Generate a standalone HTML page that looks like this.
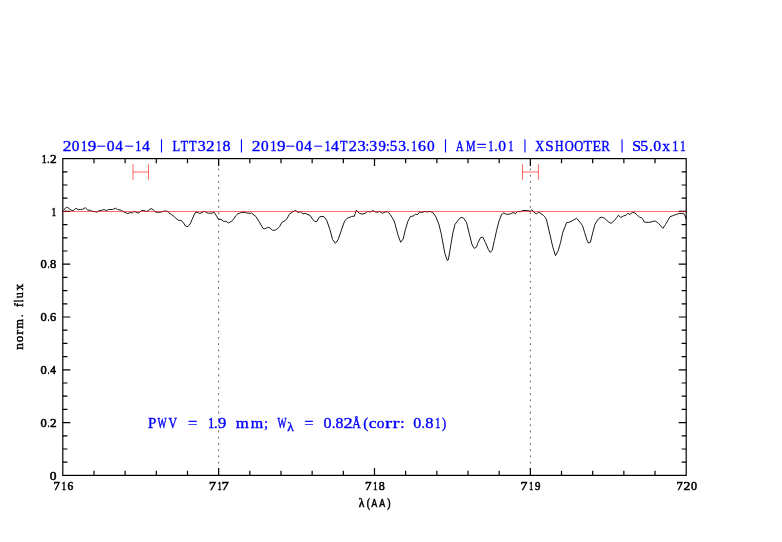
<!DOCTYPE html>
<html><head><meta charset="utf-8"><style>
html,body{margin:0;padding:0;background:#fff;}
body{width:782px;height:542px;overflow:hidden;}
svg{display:block;will-change:transform;}
</style></head><body>
<svg width="782" height="542" viewBox="0 0 782 542"><rect width="782" height="542" fill="#fff"/><line x1="218.65" y1="475.40" x2="218.65" y2="158.60" stroke="#000" stroke-width="1" stroke-opacity="0.62" stroke-dasharray="1.8 4.438" stroke-dashoffset="0.6" /><line x1="530.35" y1="475.40" x2="530.35" y2="158.60" stroke="#000" stroke-width="1" stroke-opacity="0.62" stroke-dasharray="1.8 4.438" stroke-dashoffset="0.6" /><path d="M93.97 475.40V470.80M93.97 158.60V163.20M125.14 475.40V470.80M125.14 158.60V163.20M156.31 475.40V470.80M156.31 158.60V163.20M187.48 475.40V470.80M187.48 158.60V163.20M218.65 475.40V467.90M218.65 158.60V166.10M249.82 475.40V470.80M249.82 158.60V163.20M280.99 475.40V470.80M280.99 158.60V163.20M312.16 475.40V470.80M312.16 158.60V163.20M343.33 475.40V470.80M343.33 158.60V163.20M374.50 475.40V467.90M374.50 158.60V166.10M405.67 475.40V470.80M405.67 158.60V163.20M436.84 475.40V470.80M436.84 158.60V163.20M468.01 475.40V470.80M468.01 158.60V163.20M499.18 475.40V470.80M499.18 158.60V163.20M530.35 475.40V467.90M530.35 158.60V166.10M561.52 475.40V470.80M561.52 158.60V163.20M592.69 475.40V470.80M592.69 158.60V163.20M623.86 475.40V470.80M623.86 158.60V163.20M655.03 475.40V470.80M655.03 158.60V163.20M62.80 462.20H67.40M686.20 462.20H681.60M62.80 449.00H67.40M686.20 449.00H681.60M62.80 435.80H67.40M686.20 435.80H681.60M62.80 422.60H70.30M686.20 422.60H678.70M62.80 409.40H67.40M686.20 409.40H681.60M62.80 396.20H67.40M686.20 396.20H681.60M62.80 383.00H67.40M686.20 383.00H681.60M62.80 369.80H70.30M686.20 369.80H678.70M62.80 356.60H67.40M686.20 356.60H681.60M62.80 343.40H67.40M686.20 343.40H681.60M62.80 330.20H67.40M686.20 330.20H681.60M62.80 317.00H70.30M686.20 317.00H678.70M62.80 303.80H67.40M686.20 303.80H681.60M62.80 290.60H67.40M686.20 290.60H681.60M62.80 277.40H67.40M686.20 277.40H681.60M62.80 264.20H70.30M686.20 264.20H678.70M62.80 251.00H67.40M686.20 251.00H681.60M62.80 237.80H67.40M686.20 237.80H681.60M62.80 224.60H67.40M686.20 224.60H681.60M62.80 211.40H70.30M686.20 211.40H678.70M62.80 198.20H67.40M686.20 198.20H681.60M62.80 185.00H67.40M686.20 185.00H681.60M62.80 171.80H67.40M686.20 171.80H681.60" stroke="#000" stroke-width="1.2" fill="none"/><rect x="62.8" y="158.6" width="623.40" height="316.80" fill="none" stroke="#000" stroke-width="1.2"/><polyline points="63.5,210.2 64.1,209.5 66.6,207.2 68.2,207.9 70.2,209.5 72.0,210.5 73.3,210.5 75.9,208.3 78.2,209.6 80.5,209.5 82.5,209.3 85.3,207.7 87.9,210.2 90.2,210.2 92.2,211.3 94.8,211.5 96.8,212.3 98.8,210.7 101.1,210.5 104.0,209.5 106.3,210.7 108.6,209.5 112.4,209.5 115.7,208.2 117.5,209.5 120.6,210.0 122.6,211.3 125.2,212.5 127.7,213.6 130.3,212.5 132.3,213.0 134.3,211.3 137.7,213.0 139.5,212.5 141.5,210.5 143.8,210.5 146.4,211.5 148.4,210.5 151.0,208.6 153.3,209.7 155.6,212.2 158.6,212.3 160.7,212.2 163.2,211.3 166.8,211.0 168.6,212.6 171.5,214.5 174.7,217.1 178.2,220.3 180.8,220.5 183.1,222.3 185.7,226.2 187.9,226.6 190.2,223.9 192.1,219.4 195.0,212.9 197.0,212.1 199.9,213.6 204.2,211.3 206.5,212.6 208.4,213.2 212.0,213.2 213.9,212.1 215.8,214.9 218.4,219.1 221.0,219.4 223.6,221.3 225.8,221.3 228.4,222.9 231.0,221.6 233.3,219.7 235.5,216.1 238.0,213.7 241.6,212.4 245.3,212.4 247.9,213.3 251.6,213.1 256.0,216.6 259.4,222.1 263.0,228.4 264.9,228.9 267.8,227.2 269.7,227.9 272.3,230.1 274.8,230.4 277.4,228.8 279.6,226.6 281.8,222.5 285.5,220.3 287.3,218.1 289.2,214.4 292.1,212.2 295.5,210.3 298.0,212.4 300.6,211.8 302.8,213.9 305.1,213.3 310.1,215.5 312.4,218.9 314.7,221.4 317.0,221.4 319.3,217.1 321.1,216.4 323.9,216.6 326.7,220.3 329.9,229.5 332.6,239.6 335.4,243.3 338.2,239.6 341.4,230.0 344.6,221.2 345.9,219.7 347.2,218.2 350.2,217.1 351.8,216.3 354.3,216.3 355.3,213.3 356.4,210.2 357.9,211.8 359.4,213.4 362.0,214.1 365.1,213.4 367.6,211.4 370.7,212.0 372.7,210.5 375.3,211.9 377.3,212.3 377.5,212.3 379.6,211.5 382.5,213.3 385.0,212.0 387.4,211.6 389.9,214.1 392.4,217.8 394.5,222.0 396.2,228.2 398.2,235.7 400.7,242.3 403.2,239.0 405.3,229.9 407.8,221.6 410.3,216.6 411.9,216.2 413.0,216.2 415.4,214.4 417.8,214.4 419.6,212.0 422.0,212.4 425.0,211.4 427.4,212.0 429.8,211.4 432.8,212.4 435.8,216.8 438.8,224.0 441.2,233.6 443.6,246.8 445.0,253.7 447.2,260.4 448.3,259.8 450.5,247.1 452.7,233.8 455.0,224.4 458.3,220.0 461.0,217.2 463.8,218.3 466.6,222.7 469.3,233.8 472.1,244.9 474.3,248.4 476.5,247.1 477.8,243.2 480.5,237.7 482.8,237.1 485.5,242.7 488.3,249.3 490.0,252.4 492.2,250.4 494.4,240.4 496.6,230.5 498.8,221.6 501.6,214.4 503.8,213.0 506.6,214.4 510.4,213.9 513.1,212.5 515.4,213.7 517.7,211.4 520.2,211.8 522.5,210.5 527.4,210.5 530.2,211.3 531.7,209.7 533.3,211.3 535.1,213.3 536.6,213.7 538.6,212.3 540.7,213.3 543.2,215.3 545.3,217.4 546.6,219.9 547.2,222.7 550.0,234.9 552.8,247.1 555.5,255.7 558.3,250.4 560.5,242.7 562.7,232.7 566.6,222.7 569.4,222.2 572.7,220.5 576.6,218.3 580.4,222.7 582.5,225.7 584.6,232.4 586.6,239.0 588.3,243.0 590.4,242.3 592.4,234.0 594.9,224.5 597.8,219.5 601.2,217.0 604.5,218.3 608.2,221.6 611.1,223.4 614.0,220.8 616.9,217.4 618.3,215.2 620.8,217.6 623.3,216.0 626.1,215.2 627.7,213.4 629.9,214.3 632.7,212.3 634.9,213.0 637.1,214.9 639.6,217.4 641.5,217.6 642.9,219.4 644.3,222.1 648.2,222.4 651.0,222.1 653.9,221.0 655.8,221.3 658.4,223.3 661.0,226.2 662.9,228.4 665.5,224.5 667.8,220.7 670.0,216.7 673.3,215.5 677.1,214.2 679.1,213.4 683.6,213.4 684.9,215.5 686.2,219.0" fill="none" stroke="#000" stroke-width="0.9" stroke-linejoin="round"/><line x1="62.8" y1="211.5" x2="686.2" y2="211.5" stroke="#f00" stroke-width="1" stroke-opacity="0.6"/><path d="M133.0 164.0V180.0M148.5 164.0V180.0M133.0 172.0H148.5" stroke="#f00" stroke-width="1" stroke-opacity="0.6" fill="none"/><path d="M522.5 164.0V180.0M538.4 164.0V180.0M522.5 172.0H538.4" stroke="#f00" stroke-width="1" stroke-opacity="0.6" fill="none"/><g><text transform="translate(62.63 150.60) scale(1.1641 1.0000)" font-family='"Liberation Serif", serif' font-size="15.0" fill="#00f" stroke="#00f" stroke-width="0.352">2</text><text transform="translate(71.82 150.60) scale(1.0224 1.0000)" font-family='"Liberation Serif", serif' font-size="15.0" fill="#00f" stroke="#00f" stroke-width="0.376">0</text><text transform="translate(81.10 150.60) scale(0.8332 1.0000)" font-family='"Liberation Serif", serif' font-size="15.0" fill="#00f" stroke="#00f" stroke-width="0.416">1</text><text transform="translate(87.85 150.60) scale(1.1404 1.0000)" font-family='"Liberation Serif", serif' font-size="15.0" fill="#00f" stroke="#00f" stroke-width="0.356">9</text><text transform="translate(96.49 150.60) scale(1.0888 1.0000)" font-family='"Liberation Serif", serif' font-size="15.0" fill="#00f" stroke="#00f" stroke-width="0.364">−</text><text transform="translate(106.71 150.60) scale(1.0382 1.0000)" font-family='"Liberation Serif", serif' font-size="15.0" fill="#00f" stroke="#00f" stroke-width="0.373">0</text><text transform="translate(115.20 150.60) scale(1.0183 1.0000)" font-family='"Liberation Serif", serif' font-size="15.0" fill="#00f" stroke="#00f" stroke-width="0.377">4</text><text transform="translate(124.40 150.60) scale(1.0745 1.0000)" font-family='"Liberation Serif", serif' font-size="15.0" fill="#00f" stroke="#00f" stroke-width="0.367">−</text><text transform="translate(135.33 150.60) scale(0.8143 1.0000)" font-family='"Liberation Serif", serif' font-size="15.0" fill="#00f" stroke="#00f" stroke-width="0.421">1</text><text transform="translate(141.99 150.60) scale(1.0469 1.0000)" font-family='"Liberation Serif", serif' font-size="15.0" fill="#00f" stroke="#00f" stroke-width="0.371">4</text><text transform="translate(172.54 150.60) scale(0.8302 1.0000)" font-family='"Liberation Serif", serif' font-size="15.0" fill="#00f" stroke="#00f" stroke-width="0.417">L</text><text transform="translate(180.78 150.60) scale(0.7984 1.0000)" font-family='"Liberation Serif", serif' font-size="15.0" fill="#00f" stroke="#00f" stroke-width="0.425">T</text><text transform="translate(188.98 150.60) scale(0.8215 1.0000)" font-family='"Liberation Serif", serif' font-size="15.0" fill="#00f" stroke="#00f" stroke-width="0.419">T</text><text transform="translate(197.64 150.60) scale(1.0652 1.0000)" font-family='"Liberation Serif", serif' font-size="15.0" fill="#00f" stroke="#00f" stroke-width="0.368">3</text><text transform="translate(206.04 150.60) scale(1.1475 1.0000)" font-family='"Liberation Serif", serif' font-size="15.0" fill="#00f" stroke="#00f" stroke-width="0.355">2</text><text transform="translate(216.23 150.60) scale(0.6628 1.0000)" font-family='"Liberation Serif", serif' font-size="15.0" fill="#00f" stroke="#00f" stroke-width="0.467">1</text><text transform="translate(222.59 150.60) scale(1.0696 1.0000)" font-family='"Liberation Serif", serif' font-size="15.0" fill="#00f" stroke="#00f" stroke-width="0.367">8</text><text transform="translate(251.73 150.60) scale(1.1641 1.0000)" font-family='"Liberation Serif", serif' font-size="15.0" fill="#00f" stroke="#00f" stroke-width="0.352">2</text><text transform="translate(260.92 150.60) scale(1.0224 1.0000)" font-family='"Liberation Serif", serif' font-size="15.0" fill="#00f" stroke="#00f" stroke-width="0.376">0</text><text transform="translate(270.20 150.60) scale(0.8332 1.0000)" font-family='"Liberation Serif", serif' font-size="15.0" fill="#00f" stroke="#00f" stroke-width="0.416">1</text><text transform="translate(276.95 150.60) scale(1.1404 1.0000)" font-family='"Liberation Serif", serif' font-size="15.0" fill="#00f" stroke="#00f" stroke-width="0.356">9</text><text transform="translate(285.59 150.60) scale(1.0888 1.0000)" font-family='"Liberation Serif", serif' font-size="15.0" fill="#00f" stroke="#00f" stroke-width="0.364">−</text><text transform="translate(295.81 150.60) scale(1.0382 1.0000)" font-family='"Liberation Serif", serif' font-size="15.0" fill="#00f" stroke="#00f" stroke-width="0.373">0</text><text transform="translate(304.30 150.60) scale(1.0183 1.0000)" font-family='"Liberation Serif", serif' font-size="15.0" fill="#00f" stroke="#00f" stroke-width="0.377">4</text><text transform="translate(313.50 150.60) scale(1.0745 1.0000)" font-family='"Liberation Serif", serif' font-size="15.0" fill="#00f" stroke="#00f" stroke-width="0.367">−</text><text transform="translate(324.43 150.60) scale(0.8143 1.0000)" font-family='"Liberation Serif", serif' font-size="15.0" fill="#00f" stroke="#00f" stroke-width="0.421">1</text><text transform="translate(331.09 150.60) scale(1.0469 1.0000)" font-family='"Liberation Serif", serif' font-size="15.0" fill="#00f" stroke="#00f" stroke-width="0.371">4</text><text transform="translate(340.08 150.60) scale(0.8099 1.0000)" font-family='"Liberation Serif", serif' font-size="15.0" fill="#00f" stroke="#00f" stroke-width="0.422">T</text><text transform="translate(348.79 150.60) scale(1.0810 1.0000)" font-family='"Liberation Serif", serif' font-size="15.0" fill="#00f" stroke="#00f" stroke-width="0.365">2</text><text transform="translate(357.41 150.60) scale(1.0974 1.0000)" font-family='"Liberation Serif", serif' font-size="15.0" fill="#00f" stroke="#00f" stroke-width="0.363">3</text><text transform="translate(365.66 150.60) scale(0.7931 1.0000)" font-family='"Liberation Serif", serif' font-size="15.0" fill="#00f" stroke="#00f" stroke-width="0.427">:</text><text transform="translate(369.14 150.60) scale(1.0652 1.0000)" font-family='"Liberation Serif", serif' font-size="15.0" fill="#00f" stroke="#00f" stroke-width="0.368">3</text><text transform="translate(378.42 150.60) scale(0.9842 1.0000)" font-family='"Liberation Serif", serif' font-size="15.0" fill="#00f" stroke="#00f" stroke-width="0.383">9</text><text transform="translate(385.99 150.60) scale(0.8498 1.0000)" font-family='"Liberation Serif", serif' font-size="15.0" fill="#00f" stroke="#00f" stroke-width="0.412">:</text><text transform="translate(389.72 150.60) scale(1.0095 1.0000)" font-family='"Liberation Serif", serif' font-size="15.0" fill="#00f" stroke="#00f" stroke-width="0.378">5</text><text transform="translate(398.35 150.60) scale(1.0490 1.0000)" font-family='"Liberation Serif", serif' font-size="15.0" fill="#00f" stroke="#00f" stroke-width="0.371">3</text><text transform="translate(406.83 150.60) scale(0.6770 1.0000)" font-family='"Liberation Serif", serif' font-size="15.0" fill="#00f" stroke="#00f" stroke-width="0.462">.</text><text transform="translate(411.48 150.60) scale(0.7007 1.0000)" font-family='"Liberation Serif", serif' font-size="15.0" fill="#00f" stroke="#00f" stroke-width="0.454">1</text><text transform="translate(418.12 150.60) scale(1.0611 1.0000)" font-family='"Liberation Serif", serif' font-size="15.0" fill="#00f" stroke="#00f" stroke-width="0.369">6</text><text transform="translate(426.92 150.60) scale(1.0224 1.0000)" font-family='"Liberation Serif", serif' font-size="15.0" fill="#00f" stroke="#00f" stroke-width="0.376">0</text><text transform="translate(456.10 150.60) scale(0.7091 1.0000)" font-family='"Liberation Serif", serif' font-size="15.0" fill="#00f" stroke="#00f" stroke-width="0.451">A</text><text transform="translate(466.09 150.60) scale(0.7140 1.0000)" font-family='"Liberation Serif", serif' font-size="15.0" fill="#00f" stroke="#00f" stroke-width="0.450">M</text><text transform="translate(476.73 150.60) scale(1.1605 1.0000)" font-family='"Liberation Serif", serif' font-size="15.0" fill="#00f" stroke="#00f" stroke-width="0.353">=</text><text transform="translate(488.15 150.60) scale(0.7196 1.0000)" font-family='"Liberation Serif", serif' font-size="15.0" fill="#00f" stroke="#00f" stroke-width="0.448">1</text><text transform="translate(494.52 150.60) scale(0.7899 1.0000)" font-family='"Liberation Serif", serif' font-size="15.0" fill="#00f" stroke="#00f" stroke-width="0.428">.</text><text transform="translate(498.21 150.60) scale(1.0382 1.0000)" font-family='"Liberation Serif", serif' font-size="15.0" fill="#00f" stroke="#00f" stroke-width="0.373">0</text><text transform="translate(508.18 150.60) scale(0.7007 1.0000)" font-family='"Liberation Serif", serif' font-size="15.0" fill="#00f" stroke="#00f" stroke-width="0.454">1</text><text transform="translate(535.13 150.60) scale(0.8210 1.0000)" font-family='"Liberation Serif", serif' font-size="15.0" fill="#00f" stroke="#00f" stroke-width="0.419">X</text><text transform="translate(545.18 150.60) scale(1.0142 1.0000)" font-family='"Liberation Serif", serif' font-size="15.0" fill="#00f" stroke="#00f" stroke-width="0.377">S</text><text transform="translate(555.06 150.60) scale(0.7831 1.0000)" font-family='"Liberation Serif", serif' font-size="15.0" fill="#00f" stroke="#00f" stroke-width="0.429">H</text><text transform="translate(564.69 150.60) scale(0.8332 1.0000)" font-family='"Liberation Serif", serif' font-size="15.0" fill="#00f" stroke="#00f" stroke-width="0.416">O</text><text transform="translate(574.29 150.60) scale(0.8332 1.0000)" font-family='"Liberation Serif", serif' font-size="15.0" fill="#00f" stroke="#00f" stroke-width="0.416">O</text><text transform="translate(583.55 150.60) scale(0.9256 1.0000)" font-family='"Liberation Serif", serif' font-size="15.0" fill="#00f" stroke="#00f" stroke-width="0.395">T</text><text transform="translate(592.60 150.60) scale(0.9269 1.0000)" font-family='"Liberation Serif", serif' font-size="15.0" fill="#00f" stroke="#00f" stroke-width="0.395">E</text><text transform="translate(601.32 150.60) scale(0.8690 1.0000)" font-family='"Liberation Serif", serif' font-size="15.0" fill="#00f" stroke="#00f" stroke-width="0.408">R</text><text transform="translate(632.14 150.60) scale(1.0611 1.0000)" font-family='"Liberation Serif", serif' font-size="15.0" fill="#00f" stroke="#00f" stroke-width="0.369">S</text><text transform="translate(640.28 150.60) scale(1.0592 1.0000)" font-family='"Liberation Serif", serif' font-size="15.0" fill="#00f" stroke="#00f" stroke-width="0.369">5</text><text transform="translate(649.15 150.60) scale(0.9591 1.0000)" font-family='"Liberation Serif", serif' font-size="15.0" fill="#00f" stroke="#00f" stroke-width="0.388">.</text><text transform="translate(653.20 150.60) scale(1.0539 1.0000)" font-family='"Liberation Serif", serif' font-size="15.0" fill="#00f" stroke="#00f" stroke-width="0.370">0</text><text transform="translate(662.16 150.60) scale(1.0299 1.0000)" font-family='"Liberation Serif", serif' font-size="15.0" fill="#00f" stroke="#00f" stroke-width="0.374">x</text><text transform="translate(672.23 150.60) scale(0.8143 1.0000)" font-family='"Liberation Serif", serif' font-size="15.0" fill="#00f" stroke="#00f" stroke-width="0.421">1</text><text transform="translate(680.00 150.60) scale(0.7575 1.0000)" font-family='"Liberation Serif", serif' font-size="15.0" fill="#00f" stroke="#00f" stroke-width="0.437">1</text><rect x="160.95" y="139.3" width="1.1" height="13.2" fill="#00f"/><rect x="240.90" y="139.3" width="1.1" height="13.2" fill="#00f"/><rect x="444.95" y="139.3" width="1.1" height="13.2" fill="#00f"/><rect x="524.40" y="139.3" width="1.1" height="13.2" fill="#00f"/><rect x="621.50" y="139.3" width="1.1" height="13.2" fill="#00f"/><text transform="translate(40.42 426.80) scale(1.0085 1.0000)" font-family='"Liberation Serif", serif' font-size="12.4" fill="#000" stroke="#000" stroke-width="0.548">0</text><text transform="translate(47.81 426.80) scale(0.4777 1.0000)" font-family='"Liberation Serif", serif' font-size="12.4" fill="#000" stroke="#000" stroke-width="0.796">.</text><text transform="translate(49.92 426.80) scale(1.0662 1.0000)" font-family='"Liberation Serif", serif' font-size="12.4" fill="#000" stroke="#000" stroke-width="0.533">2</text><text transform="translate(40.42 374.00) scale(1.0085 1.0000)" font-family='"Liberation Serif", serif' font-size="12.4" fill="#000" stroke="#000" stroke-width="0.548">0</text><text transform="translate(47.81 374.00) scale(0.4777 1.0000)" font-family='"Liberation Serif", serif' font-size="12.4" fill="#000" stroke="#000" stroke-width="0.796">.</text><text transform="translate(50.28 374.00) scale(0.9195 1.0000)" font-family='"Liberation Serif", serif' font-size="12.4" fill="#000" stroke="#000" stroke-width="0.574">4</text><text transform="translate(40.42 321.20) scale(1.0085 1.0000)" font-family='"Liberation Serif", serif' font-size="12.4" fill="#000" stroke="#000" stroke-width="0.548">0</text><text transform="translate(47.81 321.20) scale(0.4777 1.0000)" font-family='"Liberation Serif", serif' font-size="12.4" fill="#000" stroke="#000" stroke-width="0.796">.</text><text transform="translate(49.97 321.20) scale(1.0004 1.0000)" font-family='"Liberation Serif", serif' font-size="12.4" fill="#000" stroke="#000" stroke-width="0.550">6</text><text transform="translate(40.42 268.40) scale(1.0085 1.0000)" font-family='"Liberation Serif", serif' font-size="12.4" fill="#000" stroke="#000" stroke-width="0.548">0</text><text transform="translate(47.81 268.40) scale(0.4777 1.0000)" font-family='"Liberation Serif", serif' font-size="12.4" fill="#000" stroke="#000" stroke-width="0.796">.</text><text transform="translate(50.02 268.40) scale(1.0085 1.0000)" font-family='"Liberation Serif", serif' font-size="12.4" fill="#000" stroke="#000" stroke-width="0.548">8</text><text transform="translate(49.79 479.60) scale(1.0846 1.0000)" font-family='"Liberation Serif", serif' font-size="12.4" fill="#000" stroke="#000" stroke-width="0.528">0</text><text transform="translate(51.75 215.60) scale(0.6872 1.0000)" font-family='"Liberation Serif", serif' font-size="12.4" fill="#000" stroke="#000" stroke-width="0.663">1</text><text transform="translate(41.73 162.80) scale(0.8018 1.0000)" font-family='"Liberation Serif", serif' font-size="12.4" fill="#000" stroke="#000" stroke-width="0.614">1</text><text transform="translate(47.34 162.80) scale(0.6825 1.0000)" font-family='"Liberation Serif", serif' font-size="12.4" fill="#000" stroke="#000" stroke-width="0.666">.</text><text transform="translate(49.92 162.80) scale(1.0662 1.0000)" font-family='"Liberation Serif", serif' font-size="12.4" fill="#000" stroke="#000" stroke-width="0.533">2</text><text transform="translate(53.55 490.30) scale(1.0347 1.0000)" font-family='"Liberation Serif", serif' font-size="12.4" fill="#000" stroke="#000" stroke-width="0.541">7</text><text transform="translate(61.65 490.30) scale(0.6872 1.0000)" font-family='"Liberation Serif", serif' font-size="12.4" fill="#000" stroke="#000" stroke-width="0.663">1</text><text transform="translate(67.51 490.30) scale(0.9249 1.0000)" font-family='"Liberation Serif", serif' font-size="12.4" fill="#000" stroke="#000" stroke-width="0.572">6</text><text transform="translate(208.92 490.30) scale(1.1342 1.0000)" font-family='"Liberation Serif", serif' font-size="12.4" fill="#000" stroke="#000" stroke-width="0.516">7</text><text transform="translate(217.68 490.30) scale(0.6185 1.0000)" font-family='"Liberation Serif", serif' font-size="12.4" fill="#000" stroke="#000" stroke-width="0.699">1</text><text transform="translate(221.82 490.30) scale(1.1342 1.0000)" font-family='"Liberation Serif", serif' font-size="12.4" fill="#000" stroke="#000" stroke-width="0.516">7</text><text transform="translate(365.04 490.30) scale(1.0546 1.0000)" font-family='"Liberation Serif", serif' font-size="12.4" fill="#000" stroke="#000" stroke-width="0.536">7</text><text transform="translate(373.18 490.30) scale(0.6643 1.0000)" font-family='"Liberation Serif", serif' font-size="12.4" fill="#000" stroke="#000" stroke-width="0.675">1</text><text transform="translate(378.84 490.30) scale(0.9704 1.0000)" font-family='"Liberation Serif", serif' font-size="12.4" fill="#000" stroke="#000" stroke-width="0.558">8</text><text transform="translate(520.44 490.30) scale(1.1143 1.0000)" font-family='"Liberation Serif", serif' font-size="12.4" fill="#000" stroke="#000" stroke-width="0.521">7</text><text transform="translate(529.18 490.30) scale(0.6185 1.0000)" font-family='"Liberation Serif", serif' font-size="12.4" fill="#000" stroke="#000" stroke-width="0.699">1</text><text transform="translate(535.00 490.30) scale(0.8693 1.0000)" font-family='"Liberation Serif", serif' font-size="12.4" fill="#000" stroke="#000" stroke-width="0.590">9</text><text transform="translate(676.47 490.30) scale(1.0148 1.0000)" font-family='"Liberation Serif", serif' font-size="12.4" fill="#000" stroke="#000" stroke-width="0.546">7</text><text transform="translate(683.60 490.30) scale(1.1064 1.0000)" font-family='"Liberation Serif", serif' font-size="12.4" fill="#000" stroke="#000" stroke-width="0.523">2</text><text transform="translate(691.04 490.30) scale(0.9704 1.0000)" font-family='"Liberation Serif", serif' font-size="12.4" fill="#000" stroke="#000" stroke-width="0.558">0</text><g transform="rotate(-90)"><text transform="translate(-349.81 23.10) scale(1.1002 1.0000)" font-family='"Liberation Serif", serif' font-size="12.2" fill="#000" stroke="#000" stroke-width="0.429">n</text><text transform="translate(-342.20 23.10) scale(1.0830 1.0000)" font-family='"Liberation Serif", serif' font-size="12.2" fill="#000" stroke="#000" stroke-width="0.432">o</text><text transform="translate(-334.80 23.10) scale(1.2125 1.0000)" font-family='"Liberation Serif", serif' font-size="12.2" fill="#000" stroke="#000" stroke-width="0.409">r</text><text transform="translate(-328.66 23.10) scale(1.0284 1.0000)" font-family='"Liberation Serif", serif' font-size="12.2" fill="#000" stroke="#000" stroke-width="0.444">m</text><text transform="translate(-317.01 23.10) scale(0.7630 1.0000)" font-family='"Liberation Serif", serif' font-size="12.2" fill="#000" stroke="#000" stroke-width="0.515">.</text><text transform="translate(-306.95 23.10) scale(0.9221 1.0000)" font-family='"Liberation Serif", serif' font-size="12.2" fill="#000" stroke="#000" stroke-width="0.469">f</text><text transform="translate(-301.96 23.10) scale(0.6549 1.0000)" font-family='"Liberation Serif", serif' font-size="12.2" fill="#000" stroke="#000" stroke-width="0.556">l</text><text transform="translate(-298.36 23.10) scale(0.9946 1.0000)" font-family='"Liberation Serif", serif' font-size="12.2" fill="#000" stroke="#000" stroke-width="0.451">u</text><text transform="translate(-290.52 23.10) scale(1.0952 1.0000)" font-family='"Liberation Serif", serif' font-size="12.2" fill="#000" stroke="#000" stroke-width="0.430">x</text></g><text transform="translate(358.79 506.80) scale(1.0171 1.0000)" font-family='"Liberation Serif", serif' font-size="11.5" fill="#000" stroke="#000" stroke-width="0.545">λ</text><text transform="translate(366.87 506.80) scale(0.8464 1.0000)" font-family='"Liberation Serif", serif' font-size="11.5" fill="#000" stroke="#000" stroke-width="0.598">(</text><text transform="translate(387.19 506.80) scale(0.8464 1.0000)" font-family='"Liberation Serif", serif' font-size="11.5" fill="#000" stroke="#000" stroke-width="0.598">)</text><text transform="translate(371.38 506.80) scale(0.7344 1.0000)" font-family='"Liberation Sans", sans-serif' font-size="11.5" fill="#000" stroke="#000" stroke-width="0.583">A</text><text transform="translate(379.28 506.80) scale(0.7606 1.0000)" font-family='"Liberation Sans", sans-serif' font-size="11.5" fill="#000" stroke="#000" stroke-width="0.573">A</text><text transform="translate(147.97 427.50) scale(1.0261 1.0000)" font-family='"Liberation Serif", serif' font-size="14.6" fill="#00f" stroke="#00f" stroke-width="0.375">P</text><text transform="translate(157.59 427.50) scale(0.6624 1.0000)" font-family='"Liberation Serif", serif' font-size="14.6" fill="#00f" stroke="#00f" stroke-width="0.467">W</text><text transform="translate(168.47 427.50) scale(0.8125 1.0000)" font-family='"Liberation Serif", serif' font-size="14.6" fill="#00f" stroke="#00f" stroke-width="0.422">V</text><text transform="translate(187.98 427.50) scale(1.1334 1.0000)" font-family='"Liberation Serif", serif' font-size="14.6" fill="#00f" stroke="#00f" stroke-width="0.357">=</text><text transform="translate(207.88 427.50) scale(0.8755 1.0000)" font-family='"Liberation Serif", serif' font-size="14.6" fill="#00f" stroke="#00f" stroke-width="0.406">1</text><text transform="translate(214.05 427.50) scale(0.9854 1.0000)" font-family='"Liberation Serif", serif' font-size="14.6" fill="#00f" stroke="#00f" stroke-width="0.383">.</text><text transform="translate(217.96 427.50) scale(1.1395 1.0000)" font-family='"Liberation Serif", serif' font-size="14.6" fill="#00f" stroke="#00f" stroke-width="0.356">9</text><text transform="translate(235.75 427.50) scale(1.1551 1.0000)" font-family='"Liberation Serif", serif' font-size="14.6" fill="#00f" stroke="#00f" stroke-width="0.354">m</text><text transform="translate(250.66 427.50) scale(1.0996 1.0000)" font-family='"Liberation Serif", serif' font-size="14.6" fill="#00f" stroke="#00f" stroke-width="0.362">m</text><text transform="translate(264.31 427.50) scale(0.9168 1.0000)" font-family='"Liberation Serif", serif' font-size="14.6" fill="#00f" stroke="#00f" stroke-width="0.397">;</text><text transform="translate(277.59 427.50) scale(0.6551 1.0000)" font-family='"Liberation Serif", serif' font-size="14.6" fill="#00f" stroke="#00f" stroke-width="0.469">W</text><text transform="translate(304.61 427.50) scale(1.0892 1.0000)" font-family='"Liberation Serif", serif' font-size="14.6" fill="#00f" stroke="#00f" stroke-width="0.364">=</text><text transform="translate(323.49 427.50) scale(1.0989 1.0000)" font-family='"Liberation Serif", serif' font-size="14.6" fill="#00f" stroke="#00f" stroke-width="0.362">0</text><text transform="translate(331.91 427.50) scale(0.9274 1.0000)" font-family='"Liberation Serif", serif' font-size="14.6" fill="#00f" stroke="#00f" stroke-width="0.395">.</text><text transform="translate(335.40 427.50) scale(1.0828 1.0000)" font-family='"Liberation Serif", serif' font-size="14.6" fill="#00f" stroke="#00f" stroke-width="0.365">8</text><text transform="translate(343.49 427.50) scale(1.2643 1.0000)" font-family='"Liberation Serif", serif' font-size="14.6" fill="#00f" stroke="#00f" stroke-width="0.338">2</text><text transform="translate(352.19 427.50) scale(0.8063 1.0000)" font-family='"Liberation Serif", serif' font-size="14.6" fill="#00f" stroke="#00f" stroke-width="0.423">Å</text><text transform="translate(363.23 427.50) scale(1.0401 1.0000)" font-family='"Liberation Serif", serif' font-size="14.6" fill="#00f" stroke="#00f" stroke-width="0.373">(</text><text transform="translate(368.64 427.50) scale(1.1872 1.0000)" font-family='"Liberation Serif", serif' font-size="14.6" fill="#00f" stroke="#00f" stroke-width="0.349">c</text><text transform="translate(376.72 427.50) scale(1.0504 1.0000)" font-family='"Liberation Serif", serif' font-size="14.6" fill="#00f" stroke="#00f" stroke-width="0.371">o</text><text transform="translate(384.88 427.50) scale(1.4410 1.0000)" font-family='"Liberation Serif", serif' font-size="14.6" fill="#00f" stroke="#00f" stroke-width="0.317">r</text><text transform="translate(392.58 427.50) scale(1.4410 1.0000)" font-family='"Liberation Serif", serif' font-size="14.6" fill="#00f" stroke="#00f" stroke-width="0.317">r</text><text transform="translate(399.96 427.50) scale(1.1641 1.0000)" font-family='"Liberation Serif", serif' font-size="14.6" fill="#00f" stroke="#00f" stroke-width="0.352">:</text><text transform="translate(413.29 427.50) scale(1.0989 1.0000)" font-family='"Liberation Serif", serif' font-size="14.6" fill="#00f" stroke="#00f" stroke-width="0.362">0</text><text transform="translate(421.87 427.50) scale(0.7535 1.0000)" font-family='"Liberation Serif", serif' font-size="14.6" fill="#00f" stroke="#00f" stroke-width="0.438">.</text><text transform="translate(425.17 427.50) scale(1.1312 1.0000)" font-family='"Liberation Serif", serif' font-size="14.6" fill="#00f" stroke="#00f" stroke-width="0.357">8</text><text transform="translate(435.03 427.50) scale(0.7588 1.0000)" font-family='"Liberation Serif", serif' font-size="14.6" fill="#00f" stroke="#00f" stroke-width="0.436">1</text><text transform="translate(442.00 427.50) scale(0.8534 1.0000)" font-family='"Liberation Serif", serif' font-size="14.6" fill="#00f" stroke="#00f" stroke-width="0.411">)</text><text transform="translate(287.15 431.30) scale(1.1706 1.0000)" font-family='"Liberation Serif", serif' font-size="11.5" fill="#00f" stroke="#00f" stroke-width="0.351">λ</text></g></svg>
</body></html>
